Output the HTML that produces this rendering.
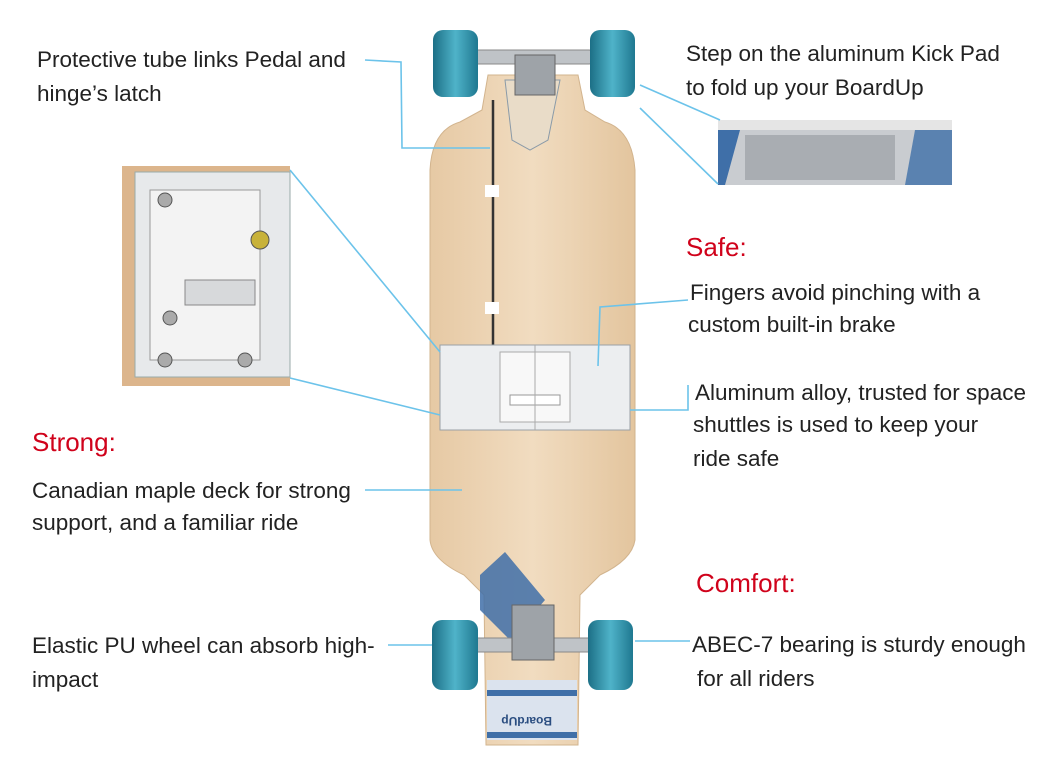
<!DOCTYPE html>
<html><head><meta charset="utf-8"><style>
body{margin:0;background:#fff;}
svg{display:block}
text{font-family:"Liberation Sans",Arial,sans-serif;fill:#222;font-size:22.5px}
.r{fill:#d0021b;font-size:26px}
</style></head><body>
<svg width="1050" height="779" viewBox="0 0 1050 779" xmlns="http://www.w3.org/2000/svg">
<defs>
<linearGradient id="wood" x1="0" x2="1">
<stop offset="0" stop-color="#e6c9a4"/><stop offset="0.5" stop-color="#f1dcc0"/><stop offset="1" stop-color="#e3c59e"/>
</linearGradient>
<linearGradient id="wh" x1="0" x2="1">
<stop offset="0" stop-color="#1c6f86"/><stop offset="0.5" stop-color="#4fb3c9"/><stop offset="1" stop-color="#1f7890"/>
</linearGradient>
</defs>
<path d="M488,75 L578,75 L585,110 L605,122 Q632,130 635,170 L635,540 Q632,560 600,575 L580,595 L578,745 L486,745 L484,595 L464,575 Q432,560 430,540 L430,170 Q432,130 460,122 L482,110 Z" fill="url(#wood)" stroke="#d2b48e"/>
<path d="M505,80 L560,80 L548,140 L530,150 L512,140 Z" fill="#e9dcc8" stroke="#8a9aa8"/>
<path d="M480,575 L505,552 L545,600 L510,640 L480,610 Z" fill="#3f6fa8" opacity="0.85"/>
<rect x="487" y="680" width="90" height="60" fill="#dbe3ee"/>
<rect x="487" y="690" width="90" height="6" fill="#3f6fa8"/>
<rect x="487" y="732" width="90" height="6" fill="#3f6fa8"/>
<text x="512" y="725" style="font-size:12px;fill:#2a4d80;font-weight:bold" transform="rotate(180 532 721)">BoardUp</text>
<line x1="493" y1="100" x2="493" y2="345" stroke="#333" stroke-width="2.5"/>
<rect x="485" y="185" width="14" height="12" fill="#fff"/>
<rect x="485" y="302" width="14" height="12" fill="#fff"/>
<rect x="440" y="345" width="190" height="85" fill="#eceef0" stroke="#9aa0a6"/>
<rect x="500" y="352" width="70" height="70" fill="#f8f8f8" stroke="#aaa"/>
<rect x="510" y="395" width="50" height="10" fill="#fff" stroke="#999"/>
<line x1="535" y1="345" x2="535" y2="430" stroke="#aaa"/>
<rect x="470" y="50" width="125" height="14" rx="6" fill="#bfc3c7" stroke="#888"/>
<rect x="515" y="55" width="40" height="40" fill="#9ea3a8" stroke="#666"/>
<rect x="433" y="30" width="45" height="67" rx="10" fill="url(#wh)"/>
<rect x="590" y="30" width="45" height="67" rx="10" fill="url(#wh)"/>
<rect x="470" y="638" width="125" height="14" rx="6" fill="#bfc3c7" stroke="#888"/>
<rect x="512" y="605" width="42" height="55" fill="#9ea3a8" stroke="#666"/>
<rect x="432" y="620" width="46" height="70" rx="10" fill="url(#wh)"/>
<rect x="588" y="620" width="45" height="70" rx="10" fill="url(#wh)"/>
<rect x="122" y="166" width="168" height="220" fill="#dcb58c"/>
<rect x="135" y="172" width="155" height="205" fill="#e7e9eb" stroke="#9aa"/>
<rect x="150" y="190" width="110" height="170" fill="#f3f3f3" stroke="#999"/>
<circle cx="260" cy="240" r="9" fill="#c8b23a" stroke="#555"/>
<circle cx="165" cy="200" r="7" fill="#aaa" stroke="#555"/>
<circle cx="165" cy="360" r="7" fill="#aaa" stroke="#555"/>
<circle cx="245" cy="360" r="7" fill="#aaa" stroke="#555"/>
<circle cx="170" cy="318" r="7" fill="#aaa" stroke="#555"/>
<rect x="185" y="280" width="70" height="25" fill="#d7d9db" stroke="#888"/>
<rect x="718" y="120" width="234" height="65" fill="#c9ccd0"/>
<rect x="718" y="120" width="234" height="10" fill="#e5e5e5"/>
<path d="M718,130 L740,130 L725,185 L718,185Z" fill="#3f6fa8"/>
<path d="M915,130 L952,130 L952,185 L905,185Z" fill="#3f6fa8" opacity="0.8"/>
<rect x="745" y="135" width="150" height="45" fill="#a9adb2"/>
<g stroke="#6cc3ea" stroke-width="1.6" fill="none">
<polyline points="365,60 401,62 402,148 490,148"/>
<line x1="290" y1="170" x2="440" y2="352"/>
<line x1="290" y1="378" x2="440" y2="415"/>
<line x1="640" y1="85" x2="720" y2="120"/>
<line x1="640" y1="108" x2="718" y2="184"/>
<polyline points="688,300 600,307 598,366"/>
<polyline points="688,385 688,410 630,410"/>
<line x1="365" y1="490" x2="462" y2="490"/>
<line x1="388" y1="645" x2="432" y2="645"/>
<line x1="690" y1="641" x2="635" y2="641"/>
</g>
<text x="37" y="67">Protective tube links Pedal and</text>
<text x="37" y="101">hinge’s latch</text>
<text x="686" y="61">Step on the aluminum Kick Pad</text>
<text x="686" y="95">to fold up your BoardUp</text>
<text class="r" x="686" y="256">Safe:</text>
<text x="690" y="300">Fingers avoid pinching with a</text>
<text x="688" y="332">custom built-in brake</text>
<text x="695" y="400">Aluminum alloy, trusted for space</text>
<text x="693" y="432">shuttles is used to keep your</text>
<text x="693" y="466">ride safe</text>
<text class="r" x="32" y="451">Strong:</text>
<text x="32" y="498">Canadian maple deck for strong</text>
<text x="32" y="530">support, and a familiar ride</text>
<text class="r" x="696" y="592">Comfort:</text>
<text x="32" y="653">Elastic PU wheel can absorb high-</text>
<text x="32" y="687">impact</text>
<text x="692" y="652">ABEC-7 bearing is sturdy enough</text>
<text x="697" y="686">for all riders</text>
</svg>
</body></html>
